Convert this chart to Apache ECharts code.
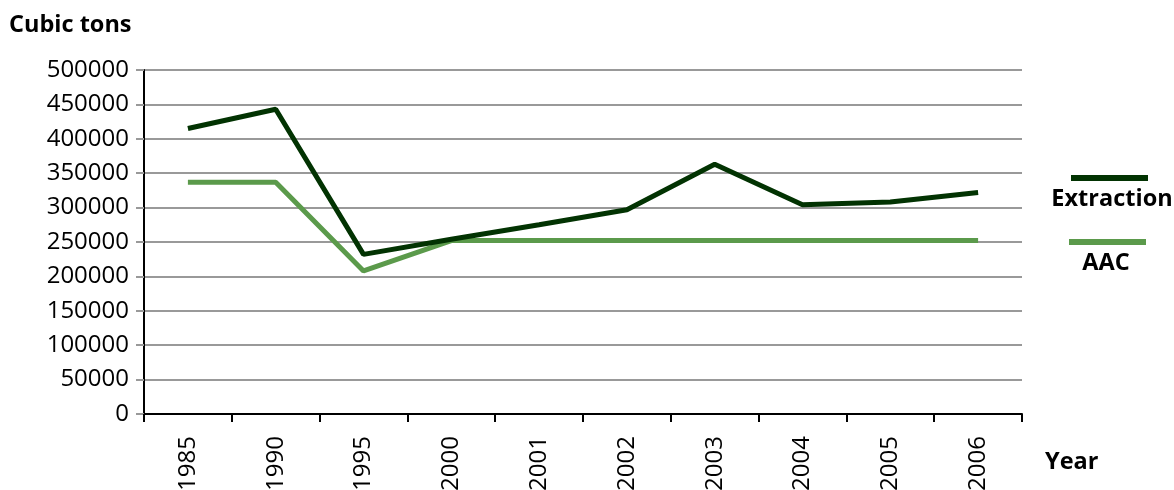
<!DOCTYPE html>
<html><head><meta charset="utf-8">
<script src="https://cdn.jsdelivr.net/npm/echarts@6/dist/echarts.min.js"></script>
<style>html,body{margin:0;padding:0;background:#fff}#c{width:1174px;height:490px}</style>
</head><body><div id="c"></div>
<script>
const years = ['1985','1990','1995','2000','2001','2002','2003','2004','2005','2006'];
const extraction = [415000, 443000, 232000, 254000, 275000, 297000, 363000, 304000, 308000, 322000];
const aac = [337000, 337000, 208000, 252000, 252000, 252000, 252000, 252000, 252000, 252000];
const yTicks = [0, 50000, 100000, 150000, 200000, 250000, 300000, 350000, 400000, 450000, 500000];
const seriesNames = ['Extraction', 'AAC'];
const colors = ['#023302', '#5b9a4b'];
const FONT = 'Open Sans';

const chart = echarts.init(document.getElementById('c'));
chart.setOption({
  animation: false,
  grid: {left: 144, right: 152, top: 70, bottom: 76, containLabel: false, outerBoundsMode: 'none'},
  xAxis: {
    type: 'category', data: years, boundaryGap: true,
    axisLine: {lineStyle: {color: '#000', width: 2}},
    axisTick: {show: true, length: 8, lineStyle: {color: '#000', width: 2}},
    axisLabel: {rotate: 90, margin: 22, color: '#000', fontSize: 24, fontFamily: FONT}
  },
  yAxis: {
    type: 'value', min: yTicks[0], max: yTicks[yTicks.length-1], interval: 50000,
    axisLine: {show: true, lineStyle: {color: '#000', width: 2}},
    axisTick: {show: true, length: 8, lineStyle: {color: '#999', width: 2}},
    splitLine: {lineStyle: {color: '#999', width: 2}},
    axisLabel: {margin: 15, color: '#000', fontSize: 24, fontFamily: FONT, formatter: v => String(v)}
  },
  series: [
    {name: seriesNames[0], type: 'line', data: extraction, showSymbol: false, z: 3,
     lineStyle: {color: colors[0], width: 5}},
    {name: seriesNames[1], type: 'line', data: aac, showSymbol: false, z: 2,
     lineStyle: {color: colors[1], width: 5}}
  ],
  graphic: [
    {type: 'text', x: 9, y: 25, style: {text: 'Cubic tons', font: 'bold 23.5px "Open Sans"', fill: '#000', verticalAlign: 'middle'}},
    {type: 'text', x: 1045, y: 462, style: {text: 'Year', font: 'bold 23.5px "Open Sans"', fill: '#000', verticalAlign: 'middle'}},
    {type: 'rect', shape: {x: 1071, y: 175, width: 77, height: 6}, style: {fill: colors[0]}},
    {type: 'text', x: 1112, y: 199, style: {text: seriesNames[0], font: 'bold 23.5px "Open Sans"', fill: '#000', align: 'center', verticalAlign: 'middle'}},
    {type: 'rect', shape: {x: 1069, y: 239, width: 77, height: 6}, style: {fill: colors[1]}},
    {type: 'text', x: 1106, y: 263, style: {text: seriesNames[1], font: 'bold 23.5px "Open Sans"', fill: '#000', align: 'center', verticalAlign: 'middle'}}
  ]
});
</script></body></html>
